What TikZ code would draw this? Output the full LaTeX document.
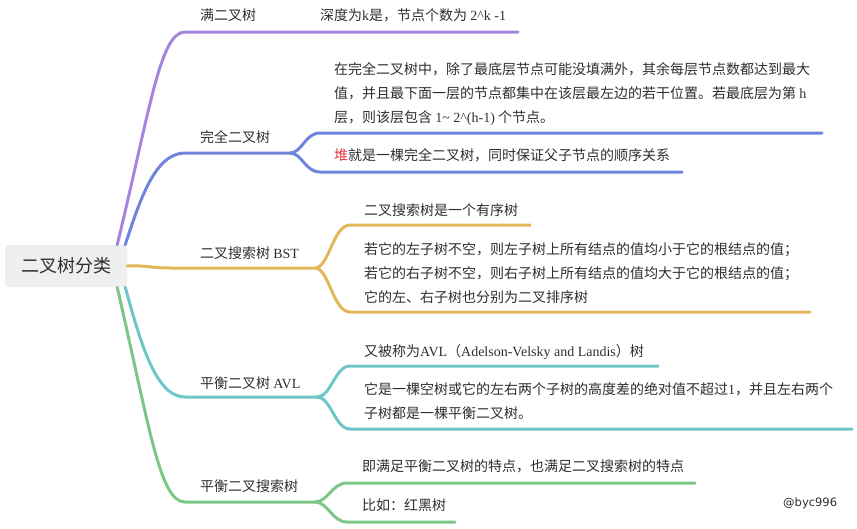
\documentclass[tikz,border=0pt]{standalone}
\usepackage{fontspec}
\setmainfont{Noto Sans CJK SC}
\newfontfamily\lat{Liberation Serif}
\newfontfamily\sigfont{DejaVu Sans}
\definecolor{PURPLE}{HTML}{A585DF}
\definecolor{BLUE}{HTML}{6F84DC}
\definecolor{YELLOW}{HTML}{E2B75A}
\definecolor{TEAL}{HTML}{6EC6C8}
\definecolor{GREEN}{HTML}{7CC788}
\definecolor{ROOT}{HTML}{EEF0F0}
\definecolor{INK}{HTML}{2E2E2E}
\definecolor{RED}{HTML}{E8333C}
\tikzset{
	every node/.style = {font=\fontsize{14pt}{17pt}\selectfont, text=INK, inner sep=0pt},
	txt/.style = {anchor=base west},
	branch/.style = {line width=3pt, line cap=round},
	rootbox/.style = {fill=ROOT, rounded corners=4pt, minimum width=122pt, minimum height=42pt,
		font=\fontsize{18pt}{20pt}\selectfont}
}

\begin{document}
\begin{tikzpicture}[x=1pt, y=-1pt]
		\useasboundingbox (0,0) rectangle (857,528);
		% root
		\node[rootbox] (root) at (66,266) {二叉树分类};
		% full binary tree
		\coordinate (fullL) at (185,32);
		\coordinate (fullR) at (518,32);
		\draw[branch, PURPLE] ([xshift=-10pt]root.north east) .. controls (150,110) and (160,32) .. (fullL) -- (fullR);
		\node[txt] (full) at (200,20) {满二叉树};
		\node[txt] (fulldef) at (320,20) {深度为{\lat k}是，节点个数为 {\lat 2\textasciicircum k -1}};
		% complete binary tree
		\coordinate (compL) at (185,153);
		\coordinate (compJ) at (290,153);
		\coordinate (compUL) at (320,133);
		\coordinate (compUR) at (822,133);
		\coordinate (compDL) at (320,172);
		\coordinate (compDR) at (682,172);
		\draw[branch, BLUE] ([xshift=-2pt]root.north east) .. controls (140,200) and (155,153) .. (compL) -- (compJ);
		\draw[branch, BLUE] (compJ) .. controls (302,153) and (305,133) .. (compUL) -- (compUR);
		\draw[branch, BLUE] (compJ) .. controls (302,153) and (305,172) .. (compDL) -- (compDR);
		\node[txt] (comp) at (200,142) {完全二叉树};
		\node[txt] (compa) at (334,74) {在完全二叉树中，除了最底层节点可能没填满外，其余每层节点数都达到最大};
		\node[txt] (compb) at (334,98) {值，并且最下面一层的节点都集中在该层最左边的若干位置。若最底层为第 {\lat h}};
		\node[txt] (compc) at (334,122) {层，则该层包含 {\lat 1\textasciitilde{} 2\textasciicircum(h-1)} 个节点。};
		\node[txt] (heap) at (334,160) {\textcolor{RED}{堆}就是一棵完全二叉树，同时保证父子节点的顺序关系};
		% binary search tree
		\coordinate (bstL) at (170,268);
		\coordinate (bstJ) at (315,268);
		\coordinate (bstUL) at (350,225);
		\coordinate (bstUR) at (530,225);
		\coordinate (bstDL) at (350,312);
		\coordinate (bstDR) at (810,312);
		\draw[branch, YELLOW] (root.east) .. controls (145,265) and (150,268) .. (bstL) -- (bstJ);
		\draw[branch, YELLOW] (bstJ) .. controls (329,268) and (333,225) .. (bstUL) -- (bstUR);
		\draw[branch, YELLOW] (bstJ) .. controls (329,268) and (333,312) .. (bstDL) -- (bstDR);
		\node[txt] (bst) at (200,258) {二叉搜索树 {\lat BST}};
		\node[txt] (bsta) at (364,215) {二叉搜索树是一个有序树};
		\node[txt] (bstb) at (364,254) {若它的左子树不空，则左子树上所有结点的值均小于它的根结点的值；};
		\node[txt] (bstc) at (364,278) {若它的右子树不空，则右子树上所有结点的值均大于它的根结点的值；};
		\node[txt] (bstd) at (364,302) {它的左、右子树也分别为二叉排序树};
		% balanced binary tree
		\coordinate (avlL) at (185,397);
		\coordinate (avlJ) at (317,397);
		\coordinate (avlUL) at (350,366);
		\coordinate (avlUR) at (658,366);
		\coordinate (avlDL) at (350,429);
		\coordinate (avlDR) at (852,429);
		\draw[branch, TEAL] ([xshift=-2pt]root.south east) .. controls (140,340) and (155,397) .. (avlL) -- (avlJ);
		\draw[branch, TEAL] (avlJ) .. controls (331,397) and (335,366) .. (avlUL) -- (avlUR);
		\draw[branch, TEAL] (avlJ) .. controls (331,397) and (335,429) .. (avlDL) -- (avlDR);
		\node[txt] (avl) at (200,388) {平衡二叉树 {\lat AVL}};
		\node[txt] (avla) at (364,356) {又被称为{\lat AVL}（{\lat Adelson-Velsky and Landis}）树};
		\node[txt] (avlb) at (364,394) {它是一棵空树或它的左右两个子树的高度差的绝对值不超过{\lat 1}，并且左右两个};
		\node[txt] (avlc) at (364,418) {子树都是一棵平衡二叉树。};
		% balanced binary search tree
		\coordinate (bbstL) at (185,502);
		\coordinate (bbstJ) at (315,502);
		\coordinate (bbstUL) at (347,483);
		\coordinate (bbstUR) at (695,483);
		\coordinate (bbstDL) at (347,522);
		\coordinate (bbstDR) at (455,522);
		\draw[branch, GREEN] ([xshift=-10pt]root.south east) .. controls (150,430) and (160,502) .. (bbstL) -- (bbstJ);
		\draw[branch, GREEN] (bbstJ) .. controls (328,502) and (332,483) .. (bbstUL) -- (bbstUR);
		\draw[branch, GREEN] (bbstJ) .. controls (328,502) and (332,522) .. (bbstDL) -- (bbstDR);
		\node[txt] (bbst) at (200,491) {平衡二叉搜索树};
		\node[txt] (bbsta) at (362,471) {即满足平衡二叉树的特点，也满足二叉搜索树的特点};
		\node[txt] (bbstb) at (362,510) {比如：红黑树};
		% signature
		\node[txt, font=\sigfont\fontsize{11.5pt}{14pt}\selectfont] (sig) at (783,506) {@byc996};
	\end{tikzpicture}
\end{document}
